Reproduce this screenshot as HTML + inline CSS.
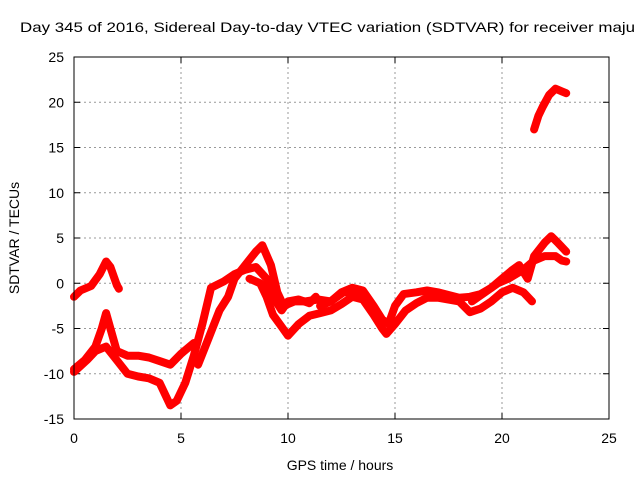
<!DOCTYPE html>
<html><head><meta charset="utf-8"><style>
html,body{margin:0;padding:0;background:#fff;overflow:hidden}
svg{display:block;font-family:"Liberation Sans",sans-serif}
</style></head><body>
<svg width="640" height="480" id="chart">
<text x="20" y="32" font-size="14" textLength="615" lengthAdjust="spacingAndGlyphs">Day 345 of 2016, Sidereal Day-to-day VTEC variation (SDTVAR) for receiver maju</text>
<g id="grid"></g><g id="ticks"></g><g id="marks"></g>
<rect x="74" y="57" width="535" height="362" fill="none" stroke="#000" stroke-width="1"/>
<text x="340" y="470" font-size="14" text-anchor="middle">GPS time / hours</text>
<text transform="translate(19,238) rotate(-90)" font-size="14" text-anchor="middle">SDTVAR / TECUs</text>
</svg>
<script>
const xTicks=[0,5,10,15,20,25];
const yTicks=[-15,-10,-5,0,5,10,15,20,25];
const trackA=[[0,-1.5],[0.3,-0.8],[0.8,-0.3],[1.2,1],[1.5,2.4],[1.7,1.8],[2,-0.2],[2.1,-0.6]];
const trackB=[[0,-9.5],[0.5,-8.5],[1,-7],[1.3,-5],[1.5,-3.3],[1.7,-5],[2,-7.5],[2.5,-8],[3,-8],[3.5,-8.2],[4,-8.6],[4.5,-9],[5,-7.8],[5.6,-6.6]];
const trackC=[[0,-9.8],[0.6,-8.5],[1,-7.5],[1.5,-7],[2,-8.5],[2.5,-10],[3,-10.3],[3.5,-10.5],[4,-11],[4.5,-13.5],[4.8,-13],[5.2,-11],[5.6,-8],[6,-4.5],[6.4,-0.5],[7,0.2],[7.5,1],[8,1.5],[8.5,1.8],[9,0.5],[9.3,-1.5],[9.7,-3],[10,-2],[10.5,-1.8],[11,-2.2],[11.3,-1.5]];
const trackD=[[5.8,-9],[6.3,-6],[6.8,-3],[7.2,-1.5],[7.5,0.5],[8,2],[8.5,3.5],[8.8,4.2],[9.2,2],[9.5,-1],[9.8,-2.5],[10.3,-2],[10.8,-2],[11.4,-1.8],[12,-2],[12.6,-1],[13.2,-1],[13.5,-1.5]];
const trackE=[[8.2,0.5],[8.7,0],[9,-1.5],[9.3,-3.5],[9.7,-4.8],[10,-5.8],[10.5,-4.5],[11,-3.6],[11.5,-3.3],[12,-3],[12.5,-2.3],[13,-1.5],[13.5,-1.8],[14,-3.5],[14.4,-5],[14.6,-5.6],[15,-4.5],[15.5,-3],[16,-2.2],[16.5,-1.6],[17,-1.6],[17.5,-1.8],[18,-2],[18.5,-3.2],[19,-2.8],[19.5,-2],[20,-1],[20.5,-0.5],[21,-1],[21.4,-2]];
const trackF=[[11.5,-2.5],[12,-2],[12.5,-1],[13,-0.5],[13.5,-0.8],[14,-2.5],[14.4,-4],[14.7,-4.5],[15,-2.5],[15.4,-1.2],[16,-1],[16.5,-0.8],[17,-1],[17.5,-1.3],[18,-1.6],[18.5,-1.5],[19,-1.2],[19.5,-0.5],[20,0.5],[20.5,1.5],[20.8,2],[21.2,0.5],[21.5,3],[22,4.5],[22.3,5.2],[22.6,4.5],[23,3.5]];
const trackG=[[18.6,-2],[19.2,-1],[19.8,0],[20.3,0.5],[21,1.5],[21.5,2.5],[22,3],[22.5,3],[22.8,2.5],[23,2.4]];
const trackH=[[21.5,17],[21.7,18.5],[21.9,19.5],[22.2,20.8],[22.5,21.5],[22.8,21.2],[23,21]];
const tracks=[trackA,trackB,trackC,trackD,trackE,trackF,trackG,trackH];
const X=h=>74+h*(535/25);
const Y=v=>57+(25-v)*(362/40);
const NS='http://www.w3.org/2000/svg';
const grid=document.getElementById('grid'),ticks=document.getElementById('ticks'),marks=document.getElementById('marks');
function mk(tag,attrs,parent){const e=document.createElementNS(NS,tag);for(const k in attrs)e.setAttribute(k,attrs[k]);parent.appendChild(e);return e;}
xTicks.forEach(t=>{const x=X(t);
 if(t>0&&t<25){const g=mk('line',{x1:x,y1:57,x2:x,y2:419,stroke:'#999','stroke-dasharray':'2,3'},grid);
 
 }
 mk('line',{x1:x,y1:419,x2:x,y2:413,stroke:'#000'},ticks);
 mk('line',{x1:x,y1:57,x2:x,y2:63,stroke:'#000'},ticks);
 const l=mk('text',{x:x,y:443,'font-size':14,'text-anchor':'middle'},ticks);l.textContent=t;
 
 });
yTicks.forEach(t=>{const y=Y(t);
 if(t>-15&&t<25){const g=mk('line',{x1:74,y1:y,x2:609,y2:y,stroke:'#999','stroke-dasharray':'2,3'},grid);
 
 }
 mk('line',{x1:74,y1:y,x2:80,y2:y,stroke:'#000'},ticks);
 mk('line',{x1:609,y1:y,x2:603,y2:y,stroke:'#000'},ticks);
 const l=mk('text',{x:64,y:y+5,'font-size':14,'text-anchor':'end'},ticks);l.textContent=t;
 
 });
tracks.forEach((tr,i)=>{
 const d=tr.map((p,j)=>(j?'L':'M')+X(p[0]).toFixed(1)+','+Y(p[1]).toFixed(1)).join('');
 const p=mk('path',{d:d,fill:'none',stroke:'#f00','stroke-width':8,'stroke-linejoin':'round','stroke-linecap':'round'},marks);
 
 
});
</script>
</body></html>
